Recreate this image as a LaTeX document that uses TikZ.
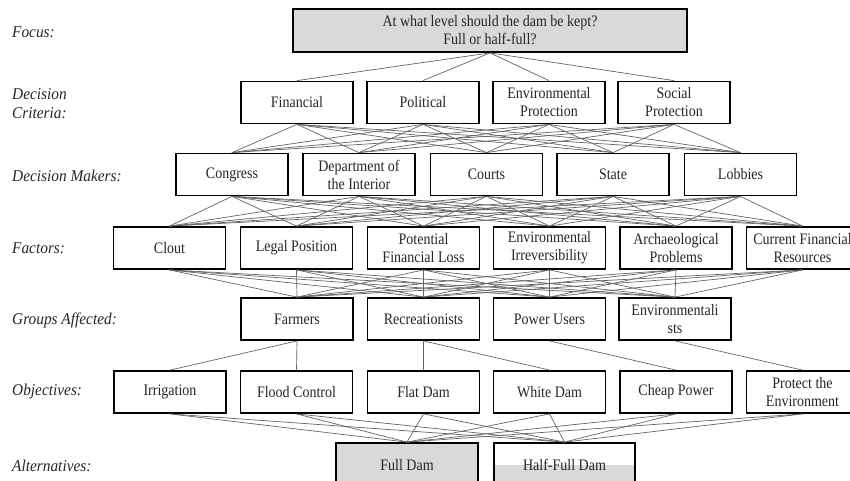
\documentclass[tikz,border=0pt]{standalone}
\usepackage{fontspec}
\setmainfont{Liberation Serif}
\newfontfamily\boxfont[FakeStretch=0.875]{Liberation Serif}
\newfontfamily\lvlfont[FakeStretch=0.93]{Liberation Serif}
\definecolor{boxgray}{RGB}{217,217,217}
\definecolor{linegray}{RGB}{100,100,100}
\tikzset{
  box/.style={draw=black, line width=1.8pt, fill=white, minimum width=112pt, minimum height=42pt,
    inner sep=0pt, align=center, font=\boxfont\fontsize{16}{18}\selectfont, text=black!85},
  lvl/.style={anchor=west, align=left, font=\lvlfont\fontsize{16.5}{19}\selectfont\itshape, text=black!85, inner sep=0pt},
  conn/.style={draw=linegray, line width=0.7pt}
}
\begin{document}
\begin{tikzpicture}[x=1pt,y=-1pt]
\useasboundingbox (0,0) rectangle (850,481);
\clip (0,0) rectangle (850,481);

% level labels
\node[lvl] (lfocus) at (12,32) {Focus:};
\node[lvl] (lcrit) at (12,103.5) {Decision\\Criteria:};
\node[lvl] (ldm) at (12,176) {Decision Makers:};
\node[lvl] (lfac) at (12,248) {Factors:};
\node[lvl] (lgrp) at (12,320) {Groups Affected:};
\node[lvl] (lobj) at (12,392) {Objectives:};
\node[lvl] (lalt) at (12,466) {Alternatives:};

% focus
\node[box, fill=boxgray, minimum width=394pt, minimum height=43pt] (focus) at (490,30.5)
  {At what level should the dam be kept?\\Full or half-full?};

% criteria
\node[box] (c1) at (297,102.5) {Financial};
\node[box] (c2) at (423,102.5) {Political};
\node[box] (c3) at (549,102.5) {Environmental\\Protection};
\node[box] (c4) at (674,102.5) {Social\\Protection};

% decision makers
\node[box] (d1) at (232,174.5) {Congress};
\node[box] (d2) at (359,174.5) {Department of\\the Interior};
\node[box] (d3) at (486.5,174.5) {Courts};
\node[box] (d4) at (613,174.5) {State};
\node[box] (d5) at (740.5,174.5) {Lobbies};

% factors
\node[box] (f1) at (169.5,248) {Clout};
\node[box] (f2) at (296.5,248) {Legal Position};
\node[box] (f3) at (423.5,248) {Potential\\Financial Loss};
\node[box] (f4) at (549.5,248) {Environmental\\Irreversibility};
\node[box] (f5) at (676,248) {Archaeological\\Problems};
\node[box] (f6) at (802.5,248) {Current Financial\\Resources};

% groups affected
\node[box] (g1) at (297,319) {Farmers};
\node[box] (g2) at (423.5,319) {Recreationists};
\node[box] (g3) at (549.5,319) {Power Users};
\node[box] (g4) at (675,319) {Environmentali\\sts};

% objectives
\node[box] (o1) at (170,392) {Irrigation};
\node[box] (o2) at (296.5,392) {Flood Control};
\node[box] (o3) at (423.5,392) {Flat Dam};
\node[box] (o4) at (549.5,392) {White Dam};
\node[box] (o5) at (676,392) {Cheap Power};
\node[box] (o6) at (802.5,392) {Protect the\\Environment};

% alternatives
\node[box, fill=boxgray, minimum width=142pt, minimum height=44pt] (a1) at (407,465) {Full Dam};
\node[box, minimum width=141pt, minimum height=44pt,
  path picture={\fill[boxgray] (path picture bounding box.west) rectangle (path picture bounding box.south east);}]
  (a2) at (564.5,465) {Half-Full Dam};

% connectors
\foreach \i in {1,...,4} \draw[conn] (focus.south) -- (c\i.north);
\foreach \i in {1,...,4} \foreach \j in {1,...,5} \draw[conn] (c\i.south) -- (d\j.north);
\foreach \i in {1,...,5} \foreach \j in {1,...,6} \draw[conn] (d\i.south) -- (f\j.north);
\foreach \i in {1,...,6} \foreach \j in {1,...,4} \draw[conn] (f\i.south) -- (g\j.north);
\draw[conn] (g1.south) -- (o1.north);
\draw[conn] (g1.south) -- (o2.north);
\draw[conn] (g2.south) -- (o3.north);
\draw[conn] (g2.south) -- (o4.north);
\draw[conn] (g3.south) -- (o5.north);
\draw[conn] (g4.south) -- (o6.north);
\foreach \i in {1,...,6} \foreach \j in {1,2} \draw[conn] (o\i.south) -- (a\j.north);
\end{tikzpicture}
\end{document}
